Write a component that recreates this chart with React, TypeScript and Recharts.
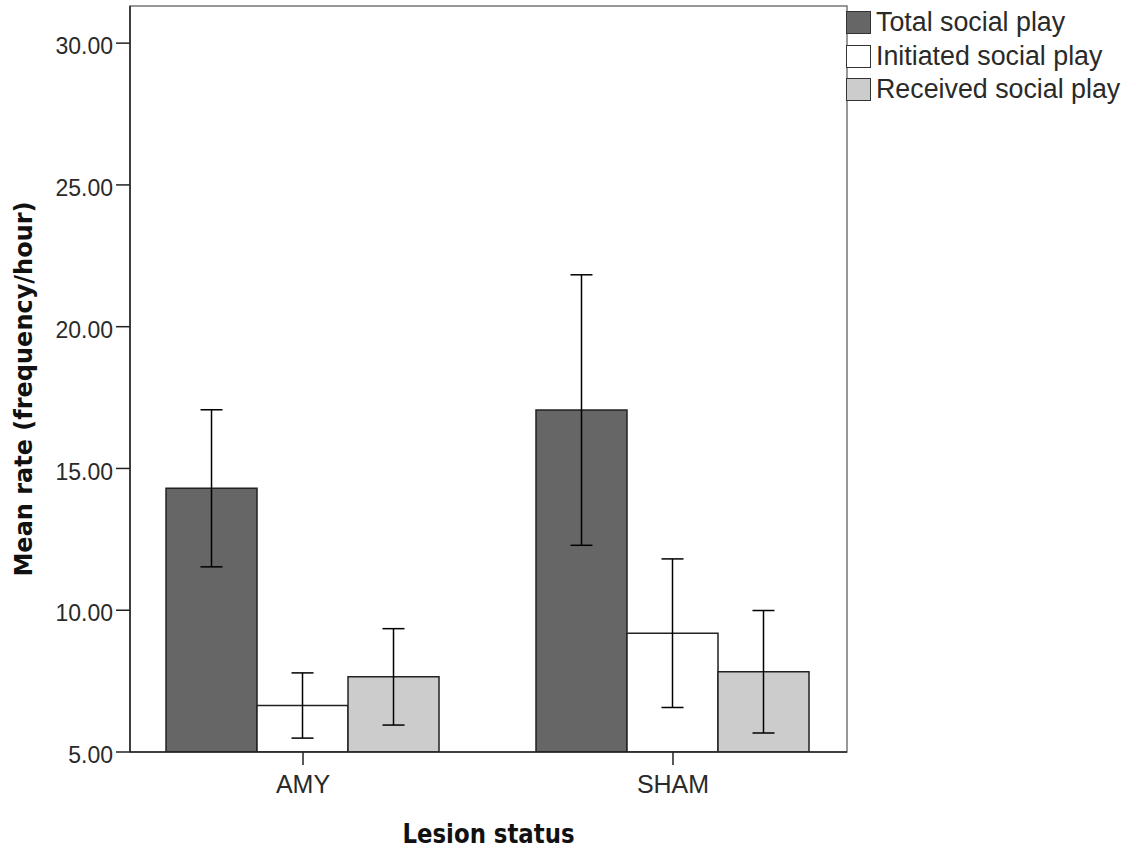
import { BarChart, Bar, XAxis, YAxis, ErrorBar, Legend, Label, ReferenceArea } from "recharts"

// Mean play rates per lesion group, with 95% CI half-widths
const lesion = ["AMY", "SHAM"]
const totalPlay = [14.3, 17.06]
const totalPlayCi = [2.77, 4.77]
const initiatedPlay = [6.64, 9.19]
const initiatedPlayCi = [1.15, 2.62]
const receivedPlay = [7.65, 7.83]
const receivedPlayCi = [1.7, 2.16]
const yTicks = [5, 10, 15, 20, 25, 30]
const seriesNames = ["Total social play", "Initiated social play", "Received social play"]

const data = lesion.map((name, i) => ({
  name,
  pos: i,
  total: totalPlay[i],
  totalCi: totalPlayCi[i],
  initiated: initiatedPlay[i],
  initiatedCi: initiatedPlayCi[i],
  received: receivedPlay[i],
  receivedCi: receivedPlayCi[i],
}))

const Y_MIN = 5
const Y_MAX = 31.31
// groups sit a little inside the frame, not on even bands
const X_DOMAIN = [-0.4676, 1.4703]

const axisFont = "'Liberation Sans', Arial, sans-serif"
const titleFont = "'DejaVu Sans', Verdana, sans-serif"

function renderLegend(props: any) {
  const items = [...(props.payload || [])].sort(
    (a: any, b: any) => seriesNames.indexOf(a.value) - seriesNames.indexOf(b.value)
  )
  return (
    <div style={{ fontFamily: axisFont }}>
      {items.map((entry: any) => (
        <div key={entry.value} style={{ display: "flex", alignItems: "center", height: 33.5 }}>
          <span
            style={{
              display: "inline-block",
              width: 25,
              height: 23,
              background: entry.color,
              border: "1.5px solid #333",
              boxSizing: "border-box",
            }}
          />
          <span style={{ marginLeft: 5, fontSize: 26.8, color: "#2a2a2a", whiteSpace: "nowrap" }}>{entry.value}</span>
        </div>
      ))}
    </div>
  )
}

function XTitle(props: any) {
  const vb = props.viewBox
  return (
    <text
      x={vb.x + vb.width / 2}
      y={vb.y + 91}
      textAnchor="middle"
      fontFamily={titleFont}
      fontWeight="bold"
      fontSize={27}
      fill="#111"
      textLength={172}
      lengthAdjust="spacingAndGlyphs"
    >
      Lesion status
    </text>
  )
}

function YTitle(props: any) {
  const vb = props.viewBox
  const cx = vb.x + 24
  const cy = vb.y + vb.height / 2 + 10
  return (
    <text
      x={cx}
      y={cy}
      transform={`rotate(-90, ${cx}, ${cy})`}
      textAnchor="middle"
      dominantBaseline="central"
      fontFamily={titleFont}
      fontWeight="bold"
      fontSize={24}
      fill="#111"
      textLength={375}
      lengthAdjust="spacingAndGlyphs"
    >
      Mean rate (frequency/hour)
    </text>
  )
}

export default function App() {
  return (
    <div style={{ position: "absolute", left: 0, top: 0, background: "#fff" }}>
      <BarChart
        width={1136}
        height={849}
        data={data}
        margin={{ top: 6, right: 289, left: 0, bottom: 0 }}
        barGap={0}
        style={{ fontFamily: axisFont }}
      >
        {/* plot frame; left and bottom edges are redrawn by the axes */}
        <ReferenceArea
          x1={X_DOMAIN[0]}
          x2={X_DOMAIN[1]}
          y1={Y_MIN}
          y2={Y_MAX}
          fill="none"
          fillOpacity={0}
          stroke="#777"
          strokeWidth={1.5}
          ifOverflow="visible"
        />
        <XAxis
          dataKey="pos"
          type="number"
          domain={X_DOMAIN}
          ticks={[0, 1]}
          allowDataOverflow
          tickFormatter={(v: number) => lesion[v] ?? ""}
          height={97}
          stroke="#222"
          strokeWidth={1.5}
          tickSize={13}
          tickMargin={10}
          tick={{ fontSize: 25, fill: "#2a2a2a" }}
        >
          <Label content={XTitle} />
        </XAxis>
        <YAxis
          domain={[Y_MIN, Y_MAX]}
          ticks={yTicks}
          allowDataOverflow
          width={130}
          stroke="#222"
          strokeWidth={1.5}
          tickSize={14}
          tickMargin={3}
          tickFormatter={(v: number) => v.toFixed(2)}
          tick={{ fontSize: 23, fill: "#2a2a2a", dy: 3 }}
        >
          <Label content={YTitle} />
        </YAxis>
        <Legend
          layout="vertical"
          align="center"
          verticalAlign="middle"
          content={renderLegend}
          wrapperStyle={{ left: 846, top: 6, width: 290, right: "auto", bottom: "auto" }}
        />
        <Bar dataKey="total" name={seriesNames[0]} fill="#666666" stroke="#222" strokeWidth={1.5} barSize={91} isAnimationActive={false}>
          <ErrorBar dataKey="totalCi" width={11} stroke="#000" strokeWidth={1.5} isAnimationActive={false} />
        </Bar>
        <Bar dataKey="initiated" name={seriesNames[1]} fill="#ffffff" stroke="#222" strokeWidth={1.5} barSize={91} isAnimationActive={false}>
          <ErrorBar dataKey="initiatedCi" width={11} stroke="#000" strokeWidth={1.5} isAnimationActive={false} />
        </Bar>
        <Bar dataKey="received" name={seriesNames[2]} fill="#cccccc" stroke="#222" strokeWidth={1.5} barSize={91} isAnimationActive={false}>
          <ErrorBar dataKey="receivedCi" width={11} stroke="#000" strokeWidth={1.5} isAnimationActive={false} />
        </Bar>
      </BarChart>
    </div>
  )
}
